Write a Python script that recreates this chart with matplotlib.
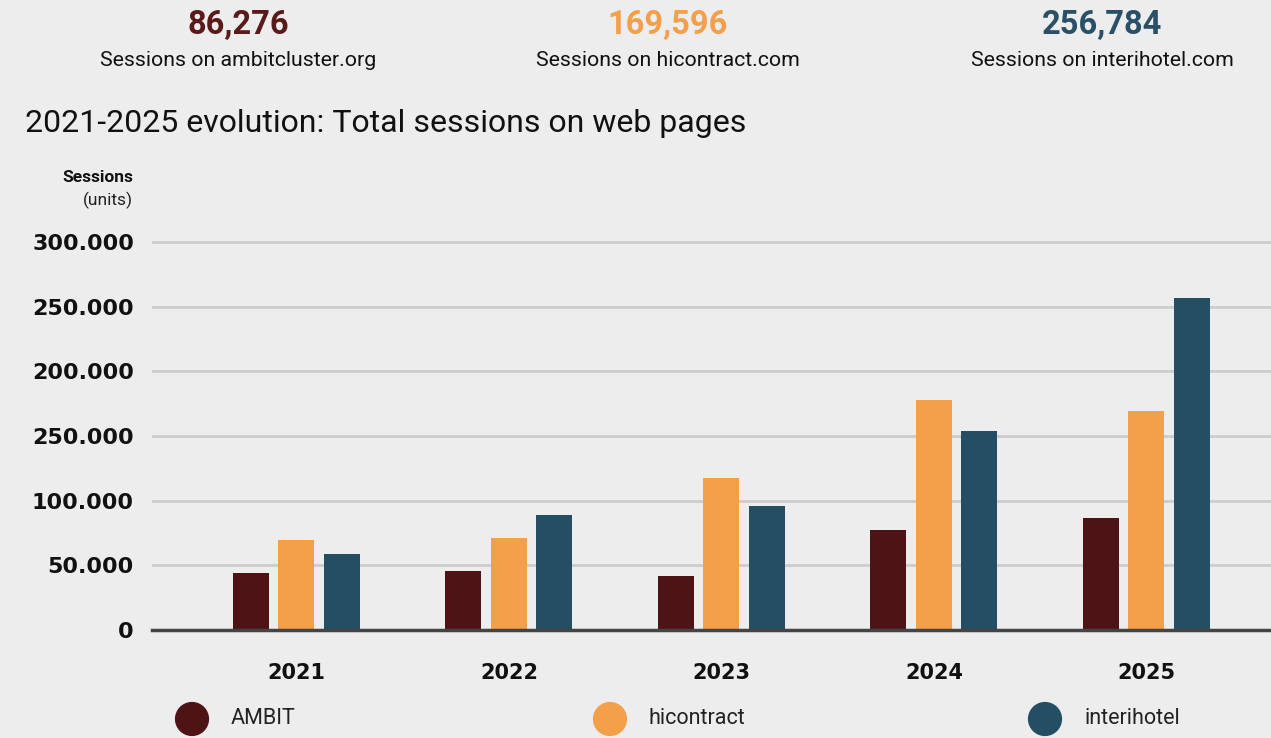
import matplotlib
matplotlib.use("Agg")
import matplotlib.pyplot as plt
import numpy as np

# ---- data ----
years = ["2021", "2022", "2023", "2024", "2025"]
series_names = ["AMBIT", "hicontract", "interihotel"]
ambit = [43800, 45400, 41500, 77100, 86276]
hicontract = [69300, 70900, 117300, 177600, 169596]
interihotel = [58500, 88700, 95600, 153600, 256784]
ytick_values = [0, 50000, 100000, 150000, 200000, 250000, 300000]
ytick_labels = ["0", "50.000", "100.000", "250.000", "200.000", "250.000", "300.000"]
kpi_values = ["86,276", "169,596", "256,784"]
kpi_labels = ["Sessions on ambitcluster.org", "Sessions on hicontract.com", "Sessions on interihotel.com"]

colors = ["#4E1314", "#F49F4A", "#234E63"]
kpi_colors = ["#5A1A1A", "#F49F4A", "#2A5068"]
BG = "#EDEDED"
FONT = "Roboto"
BFONT = "DejaVu Sans"

W, H = 1271, 738
fig = plt.figure(figsize=(W / 100, H / 100), dpi=100, facecolor=BG)

def fx(px):
    return px / W

def fy(py):
    return 1 - py / H

# main axes: zero at y=630, 300k at y=242, top of axes at 230
ax_left, ax_right, ax_top, ax_bottom = 152, 1271, 230, 630
ax = fig.add_axes([fx(ax_left), fy(ax_bottom), fx(ax_right - ax_left), (ax_bottom - ax_top) / H])
ax.set_facecolor(BG)
ymax = 300000 * (ax_bottom - ax_top) / (ax_bottom - 242)
ax.set_ylim(0, ymax)

x = np.arange(len(years))
bw = 36 / 212.5
step = 45.5 / 212.5
for i, (vals, c) in enumerate(zip([ambit, hicontract, interihotel], colors)):
    ax.bar(x + (i - 1) * step, vals, width=bw, color=c, zorder=3)

ax.set_xlim(-0.68, 4.586)
ax.set_yticks(ytick_values)
ax.set_yticklabels(ytick_labels, fontfamily=BFONT, fontweight="bold", fontsize=16, color="#111111")
ax.set_xticks(x)
ax.set_xticklabels(years, fontfamily=BFONT, fontweight="bold", fontsize=15, color="#111111")
ax.tick_params(axis="y", length=0, pad=13)
ax.tick_params(axis="x", length=0, pad=24)
ax.grid(axis="y", color="#CCCCCC", linewidth=2, zorder=0)
for s in ["top", "right", "left"]:
    ax.spines[s].set_visible(False)
ax.spines["bottom"].set_color("#444444")
ax.spines["bottom"].set_linewidth(2.5)
ax.spines["bottom"].set_zorder(4)

# overlay axes in pixel coordinates
ov = fig.add_axes([0, 0, 1, 1], facecolor="none")
ov.set_xlim(0, W)
ov.set_ylim(H, 0)
ov.axis("off")

kpi_x = [238, 668, 1102]
for kx, v, lbl, c in zip(kpi_x, kpi_values, kpi_labels, kpi_colors):
    ov.text(kx, 25, v, ha="center", va="center", fontsize=23.5, fontweight="bold", color=c, fontfamily=FONT)
    ov.text(kx, 61, lbl, ha="center", va="center", fontsize=15.3, color="#111111", fontfamily=FONT)

ov.text(25, 124, "2021-2025 evolution: Total sessions on web pages", ha="left", va="center",
        fontsize=23, color="#111111", fontfamily=FONT)
ov.text(133, 178, "Sessions", ha="right", va="center", fontsize=12.5, fontweight="bold", color="#111111", fontfamily=FONT)
ov.text(133, 200, "(units)", ha="right", va="center", fontsize=12.5, color="#222222", fontfamily=FONT)

leg_x = [192, 610, 1045]
ov.scatter(leg_x, [719] * 3, s=np.pi * 18.5 ** 2 * (72 / 100) ** 2 / 1, c=colors, clip_on=False, zorder=5)
for lx, name in zip(leg_x, series_names):
    ov.text(lx + 39, 719, name, ha="left", va="center", fontsize=15.5, color="#222222", fontfamily=FONT)

fig.savefig("out.png", dpi=100, facecolor=BG)
